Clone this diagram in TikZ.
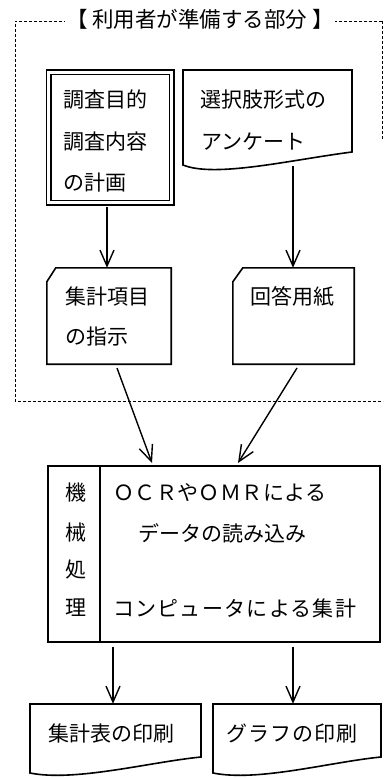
\documentclass[tikz,border=0pt]{standalone}
\usepackage{fontspec}
\setmainfont{Noto Sans CJK JP}
\usetikzlibrary{arrows.meta}
\begin{document}
\begin{tikzpicture}[x=1pt,y=-1pt,
  box/.style={draw, line width=1.6pt, line join=miter},
  arr/.style={line width=1.4pt, -{Straight Barb[length=16pt,width=14pt,line width=1.4pt]}},
  frame/.style={line width=0.9pt, dash pattern=on 3pt off 2pt},
  txt/.style={inner sep=0pt, anchor=west, font=\fontsize{21}{21}\selectfont},
  ctxt/.style={inner sep=0pt, font=\fontsize{21}{21}\selectfont},
  ]
\useasboundingbox (0,0) rectangle (383,778);

% dashed frame of the user part
\coordinate (fTL) at (15,21);
\coordinate (fTR) at (382,21);
\coordinate (fRE) at (382,140);
\coordinate (fBL) at (15,401);
\coordinate (fBR) at (383,401);
\draw[frame] (fTR) -- (fTL) -- (fBL) -- (fBR);
\draw[frame] (fTR) -- (fRE);
\node[fill=white, inner sep=1pt, font=\fontsize{21.5}{21.5}\selectfont] (title) at (200,19) {【 利用者が準備する部分 】};

% box 1: double framed
\node[draw, line width=1.5pt, double, double distance=3pt, minimum width=123pt, minimum height=130pt, inner sep=0pt] (b1) at (110,137.5) {};
\node[txt] (t1a) at (63,100) {調査目的};
\node[txt] (t1b) at (63,142) {調査内容};
\node[txt] (t1c) at (63,183) {の計画};

% box 2: document shape
\draw[box] (183,165) -- (183,70) -- (352,70) -- (352,152) .. controls (290,160) and (215,178) .. (183,165) -- cycle;
\coordinate (b2out) at (293,166);
\node[txt] (t2a) at (200,100) {選択肢形式の};
\node[txt] (t2b) at (201,142) {アンケート};

% box 3 and box 4: card shapes
\node[minimum width=124pt, minimum height=96pt, inner sep=0pt] (b3) at (109,316) {};
\draw[box] (b3.south west) -- ([yshift=-14pt]b3.north west) -- ([xshift=9pt]b3.north west) -- (b3.north east) -- (b3.south east) -- cycle;
\node[txt] (t3a) at (65,297) {集計項目};
\node[txt] (t3b) at (65,337) {の指示};

\node[minimum width=121pt, minimum height=96pt, inner sep=0pt] (b4) at (293.5,316) {};
\draw[box] (b4.south west) -- ([yshift=-14pt]b4.north west) -- ([xshift=10pt]b4.north west) -- (b4.north east) -- (b4.south east) -- cycle;
\node[txt] (t4a) at (250,297) {回答用紙};

% arrows in the user part
\draw[arr] ([yshift=-4pt]b1.south -| 107,0) -- (b3.north -| 107,0);
\draw[arr] (b2out) -- (b4.north -| b2out);

% box 5: machine processing
\node[box, minimum width=332pt, minimum height=176pt, inner sep=0pt] (b5) at (214,554) {};
\coordinate (div) at (100,0);
\draw[box] (b5.north -| div) -- (b5.south -| div);
\node[ctxt] (m1) at (76,493) {機};
\node[ctxt] (m2) at (76,533) {械};
\node[ctxt] (m3) at (76,570) {処};
\node[ctxt] (m4) at (76,608) {理};
\node[txt] (p1) at (113,493) {{\addfontfeatures{LetterSpace=2}ＯＣＲやＯＭＲによる}};
\node[txt] (p2) at (138,533) {データの読み込み};
\node[txt] (p3) at (113,608) {{\addfontfeatures{LetterSpace=6}コンピュータによる集計}};

% diagonal arrows into box 5
\coordinate (a3s) at (117,368);
\coordinate (a3e) at (152,463);
\coordinate (a4s) at (297,368);
\coordinate (a4e) at (238,463);
\draw[arr] (a3s) -- (a3e);
\draw[arr] (a4s) -- (a4e);

% bottom documents
\draw[box] (30,773) -- (30,704) -- (201,704) -- (201,757) .. controls (150,762) and (75,782) .. (30,773) -- cycle;
\node[minimum width=171pt, minimum height=69pt, inner sep=0pt] (b6) at (115.5,738.5) {};
\draw[box] (213,773) -- (213,704) -- (381,704) -- (381,757) .. controls (330,762) and (258,782) .. (213,773) -- cycle;
\node[minimum width=168pt, minimum height=69pt, inner sep=0pt] (b7) at (297,738.5) {};
\node[ctxt] (t6) at (111,733) {集計表の印刷};
\node[ctxt] (t7) at (292,733) {{\addfontfeatures{LetterSpace=5}グラフの印刷}};

% arrows out of box 5
\coordinate (x6) at (113,0);
\coordinate (x7) at (293,0);
\draw[arr] ([yshift=-4pt]b5.south -| x6) -- (b6.north -| x6);
\draw[arr] ([yshift=-4pt]b5.south -| x7) -- (b7.north -| x7);
\end{tikzpicture}
\end{document}
